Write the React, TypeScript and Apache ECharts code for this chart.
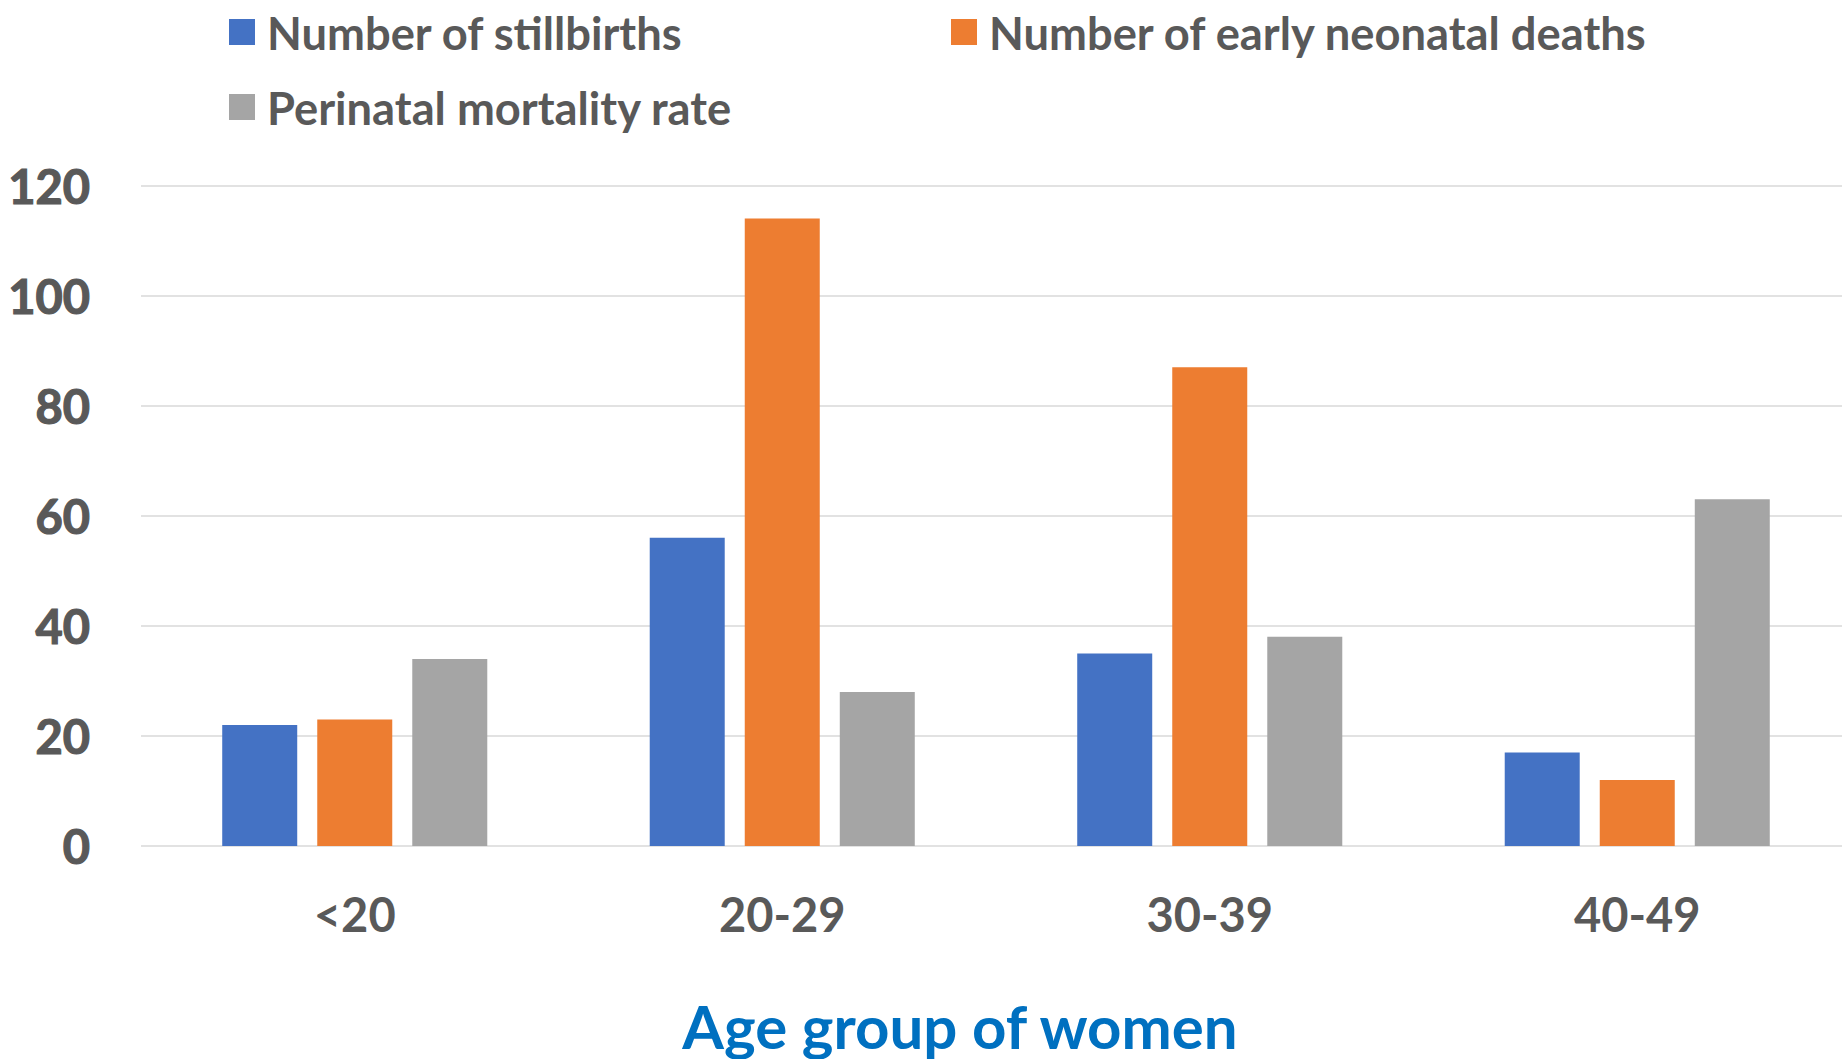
import React, { useEffect, useRef } from "react";
import * as echarts from "echarts";

const categories = ["<20", "20-29", "30-39", "40-49"];
const stillbirths = [22, 56, 35, 17];
const neonatalDeaths = [23, 114, 87, 12];
const perinatalRate = [34, 28, 38, 63];
const seriesNames = [
  "Number of stillbirths",
  "Number of early neonatal deaths",
  "Perinatal mortality rate",
];
const axisTitle = "Age group of women";

const FONT = "Lato, 'Open Sans', sans-serif";
const TXT = "#595959";

export default function App() {
  const ref = useRef<HTMLDivElement>(null);
  useEffect(() => {
    if (!ref.current) return;
    const chart = echarts.init(ref.current, null, { renderer: "svg" });
    const legendText = {
      color: TXT,
      fontFamily: FONT,
      fontWeight: "bold" as const,
      fontSize: 45.3,
      lineHeight: 46,
      padding: [0, 0, 0, 7],
    };
    const legendBase = {
      orient: "horizontal" as const,
      itemWidth: 26,
      itemHeight: 26,
      icon: "rect",
      padding: 0,
      textStyle: legendText,
      selectedMode: false,
    };
    chart.setOption({
      animation: false,
      backgroundColor: "#ffffff",
      legend: [
        { ...legendBase, left: 229, top: 9, data: [seriesNames[0]] },
        { ...legendBase, left: 951, top: 9, data: [seriesNames[1]] },
        { ...legendBase, left: 229, top: 84, data: [seriesNames[2]] },
      ],
      grid: {
        left: 141,
        right: -9,
        top: 185.6,
        bottom: 213,
        containLabel: false,
        outerBoundsMode: "none",
      },
      xAxis: {
        type: "category",
        data: categories,
        axisLine: { show: false },
        axisTick: { show: false },
        axisLabel: {
          color: TXT,
          fontFamily: FONT,
          fontWeight: "bold",
          fontSize: 47,
          lineHeight: 47,
          margin: 44,
        },
        name: axisTitle,
        nameLocation: "middle",
        nameGap: 150,
        nameTextStyle: {
          color: "#0070C0",
          fontFamily: FONT,
          fontWeight: "bold",
          fontSize: 60,
          lineHeight: 60,
          padding: [0, 72, 0, 0],
        },
      },
      yAxis: {
        type: "value",
        min: 0,
        max: 120,
        interval: 20,
        axisLine: { show: false },
        axisTick: { show: false },
        axisLabel: {
          color: TXT,
          fontFamily: FONT,
          fontWeight: "bold",
          fontSize: 47,
          margin: 51,
          textBorderColor: TXT,
          textBorderWidth: 1.2,
        },
        splitLine: { lineStyle: { color: "#D9D9D9", width: 1.5 } },
      },
      series: [
        {
          name: seriesNames[0],
          type: "bar",
          data: stillbirths,
          barWidth: 75,
          barGap: "26.7%",
          itemStyle: { color: "#4472C4" },
        },
        {
          name: seriesNames[1],
          type: "bar",
          data: neonatalDeaths,
          barWidth: 75,
          barGap: "26.7%",
          itemStyle: { color: "#ED7D31" },
        },
        {
          name: seriesNames[2],
          type: "bar",
          data: perinatalRate,
          barWidth: 75,
          barGap: "26.7%",
          itemStyle: { color: "#A5A5A5" },
        },
      ],
    });
    return () => chart.dispose();
  }, []);
  return (
    <div
      ref={ref}
      style={{ position: "fixed", left: 0, top: 0, width: 1842, height: 1059 }}
    />
  );
}
